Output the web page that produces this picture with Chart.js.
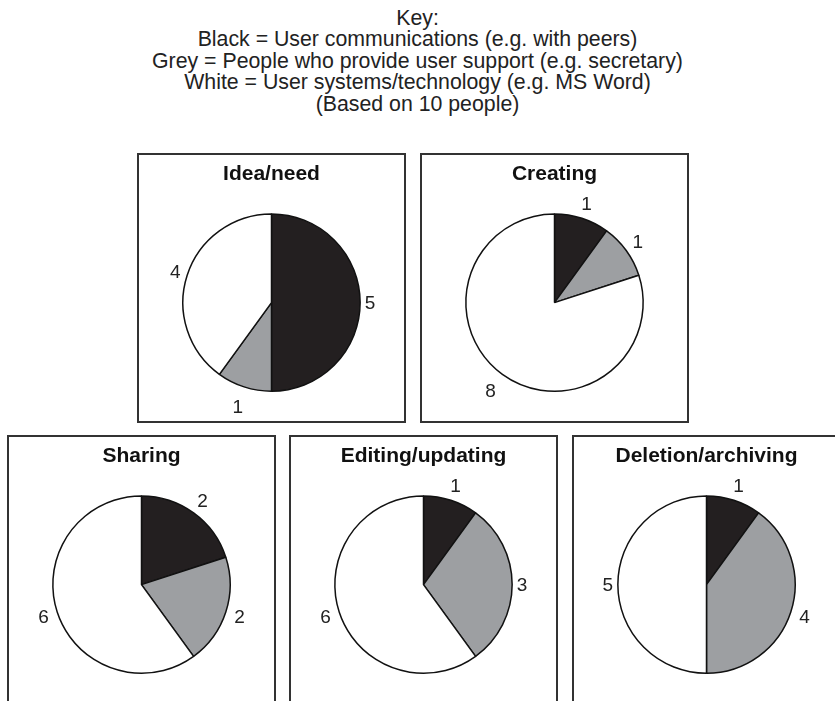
<!DOCTYPE html>
<html>
<head>
<meta charset="utf-8">
<script src="https://cdn.jsdelivr.net/npm/chart.js@4/dist/chart.umd.min.js"></script>
<style>
  body { margin: 0; background: #fff; width: 835px; height: 701px; overflow: hidden; position: relative;
         font-family: "Liberation Sans", Arial, Helvetica, sans-serif; color: #222; }
  #key { position: absolute; top: 8px; left: 0; width: 835px; text-align: center; font-size: 21.3px; line-height: 21.4px; }
  .box { position: absolute; width: 269px; height: 270px; border: 2px solid #333; box-sizing: border-box; background: #fff; }
  .box canvas { display: block; }
</style>
</head>
<body>
<div id="key">
  Key:<br>
  Black = User communications (e.g. with peers)<br>
  Grey = People who provide user support (e.g. secretary)<br>
  White = User systems/technology (e.g. MS Word)<br>
  (Based on 10 people)
</div>

<div class="box" style="left:137px; top:153px;"><canvas id="c0" width="265" height="266"></canvas></div>
<div class="box" style="left:420px; top:153px;"><canvas id="c1" width="265" height="266"></canvas></div>
<div class="box" style="left:7px; top:435px;"><canvas id="c2" width="265" height="266"></canvas></div>
<div class="box" style="left:289px; top:435px;"><canvas id="c3" width="265" height="266"></canvas></div>
<div class="box" style="left:572px; top:435px;"><canvas id="c4" width="265" height="266"></canvas></div>

<script>
// slices: black, grey, white (clockwise from 12 o'clock)
const categories = ["User communications", "People who provide user support", "User systems/technology"];
const stageTitles = ["Idea/need", "Creating", "Sharing", "Editing/updating", "Deletion/archiving"];
const ideaNeed = [5, 1, 4];
const creating = [1, 1, 8];
const sharing = [2, 2, 6];
const editing = [1, 3, 6];
const deletion = [1, 4, 5];
const sliceColors = ["#231f20", "#9d9fa2", "#ffffff"];

const stageValues = [ideaNeed, creating, sharing, editing, deletion];

// numbers outside each slice
const outsideLabels = {
  id: "outsideLabels",
  afterDatasetsDraw(chart) {
    const ctx = chart.ctx;
    const meta = chart.getDatasetMeta(0);
    ctx.save();
    ctx.font = "19px 'Liberation Sans', Arial, sans-serif";
    ctx.fillStyle = "#222";
    ctx.textAlign = "center";
    ctx.textBaseline = "middle";
    meta.data.forEach((arc, i) => {
      const p = arc.getProps(["x", "y", "startAngle", "endAngle", "outerRadius"], true);
      const mid = (p.startAngle + p.endAngle) / 2;
      const c = Math.cos(mid), s = Math.sin(mid);
      const d = p.outerRadius + 5 + Math.abs(c) * 5 + Math.abs(s) * 9 + Math.max(s, 0) * 6;
      ctx.fillText(String(chart.data.datasets[0].data[i]), p.x + c * d, p.y + s * d + 1);
    });
    ctx.restore();
  }
};

stageValues.forEach((vals, k) => {
  const ctx = document.getElementById("c" + k).getContext("2d");
  new Chart(ctx, {
    type: "pie",
    data: {
      labels: categories,
      datasets: [{
        data: vals,
        backgroundColor: sliceColors,
        borderColor: "#111",
        borderWidth: 1.5,
      }],
    },
    options: {
      responsive: false,
      animation: false,
      layout: { padding: { top: 0, bottom: 29, left: 0, right: 0 } },
      plugins: {
        legend: { display: false },
        tooltip: { enabled: false },
        title: {
          display: true,
          text: stageTitles[k],
          color: "#111",
          font: { family: "'Liberation Sans', Arial, sans-serif", size: 21, weight: "bold", lineHeight: 1.2 },
          padding: { top: 7, bottom: 26 },
        },
      },
    },
    plugins: [outsideLabels],
  });
});
</script>
</body>
</html>
